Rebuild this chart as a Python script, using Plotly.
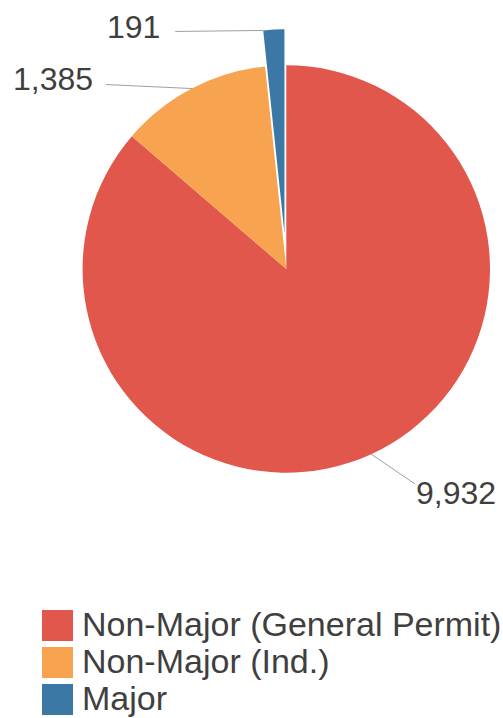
import math
import plotly.graph_objects as go

# Permit counts by facility class
categories = ["Non-Major (General Permit)", "Non-Major (Ind.)", "Major"]
counts = [9932, 1385, 191]
value_labels = ["9,932", "1,385", "191"]
colors = ["#E2574C", "#F8A34F", "#3C78A6"]

W, H = 503, 718
CX, CY, R = 286.3, 269.0, 203.7     # pie centre / radius in px
PULL_PX = 36.0                       # explode distance of the last slice
TEXT = "#3f3f3f"
FONT = "Liberation Sans, Arial, sans-serif"


def px_to_paper(x, y):
    return x / W, 1 - y / H


def domain_for(cx, cy, r):
    x0, y1 = px_to_paper(cx - r, cy - r)
    x1, y0 = px_to_paper(cx + r, cy + r)
    return dict(x=[x0, x1], y=[y0, y1])


total = sum(counts)
# slice angles, clockwise from 12 o'clock (degrees)
starts, ends = [], []
acc = 0.0
for v in counts:
    starts.append(acc / total * 360)
    acc += v
    ends.append(acc / total * 360)


def edge_point(cx, cy, r, ang):
    a = math.radians(ang)
    return cx + r * math.sin(a), cy - r * math.cos(a)


# exploded slice: shift its pie along the slice bisector
mid_last = (starts[-1] + ends[-1]) / 2
pcx, pcy = edge_point(CX, CY, PULL_PX, mid_last)

fig = go.Figure()
fig.add_trace(go.Pie(
    values=counts, labels=categories, sort=False, direction="clockwise", rotation=0,
    marker=dict(colors=colors[:-1] + ["rgba(0,0,0,0)"], line=dict(width=0)),
    textinfo="none", hoverinfo="label+value", showlegend=False,
    domain=domain_for(CX, CY, R),
))
fig.add_trace(go.Pie(
    values=counts, labels=categories, sort=False, direction="clockwise", rotation=0,
    marker=dict(colors=["rgba(0,0,0,0)"] * (len(counts) - 1) + [colors[-1]], line=dict(width=0)),
    textinfo="none", hoverinfo="label+value", showlegend=False,
    domain=domain_for(pcx, pcy, R),
))

shapes, annotations = [], []

# anchors for leader lines
anchors = [
    edge_point(CX, CY, R, (starts[0] + ends[0]) / 2),
    edge_point(CX, CY, R, (starts[1] + ends[1]) / 2),
    edge_point(pcx, pcy, R, starts[2]),
]
# (line end offset, text offset, text anchor)
label_layout = [
    ((44, 30), (43, 39), "left"),
    ((-86, -4), (-97, -10), "right"),
    ((-88, 1), (-101, -3), "right"),
]
for (ax, ay), lab, ((lx, ly), (tx, ty), anc) in zip(anchors, value_labels, label_layout):
    x0, y0 = px_to_paper(ax, ay)
    x1, y1 = px_to_paper(ax + lx, ay + ly)
    shapes.append(dict(type="line", xref="paper", yref="paper", x0=x0, y0=y0, x1=x1, y1=y1,
                       line=dict(color="#a0a0a0", width=1)))
    xt, yt = px_to_paper(ax + tx, ay + ty)
    annotations.append(dict(x=xt, y=yt, xref="paper", yref="paper", text=lab, showarrow=False,
                            xanchor=anc, yanchor="middle",
                            font=dict(family=FONT, size=32, color=TEXT)))

# legend
LEG_X, LEG_Y0, LEG_STEP, SQ = 42, 610, 37, 31
for i, (name, col) in enumerate(zip(categories, colors)):
    top = LEG_Y0 + i * LEG_STEP
    x0, y0 = px_to_paper(LEG_X, top + SQ)
    x1, y1 = px_to_paper(LEG_X + SQ, top)
    shapes.append(dict(type="rect", xref="paper", yref="paper", x0=x0, y0=y0, x1=x1, y1=y1,
                       line=dict(width=0), fillcolor=col))
    xt, yt = px_to_paper(LEG_X + SQ + 7, top + SQ / 2 - 2)
    annotations.append(dict(x=xt, y=yt, xref="paper", yref="paper", text=name, showarrow=False,
                            xanchor="left", yanchor="middle",
                            font=dict(family=FONT, size=34, color=TEXT)))

fig.update_layout(
    width=W, height=H, autosize=False,
    margin=dict(l=0, r=0, t=0, b=0),
    paper_bgcolor="white", plot_bgcolor="white",
    shapes=shapes, annotations=annotations,
    showlegend=False,
)

fig.write_html("out.html")
